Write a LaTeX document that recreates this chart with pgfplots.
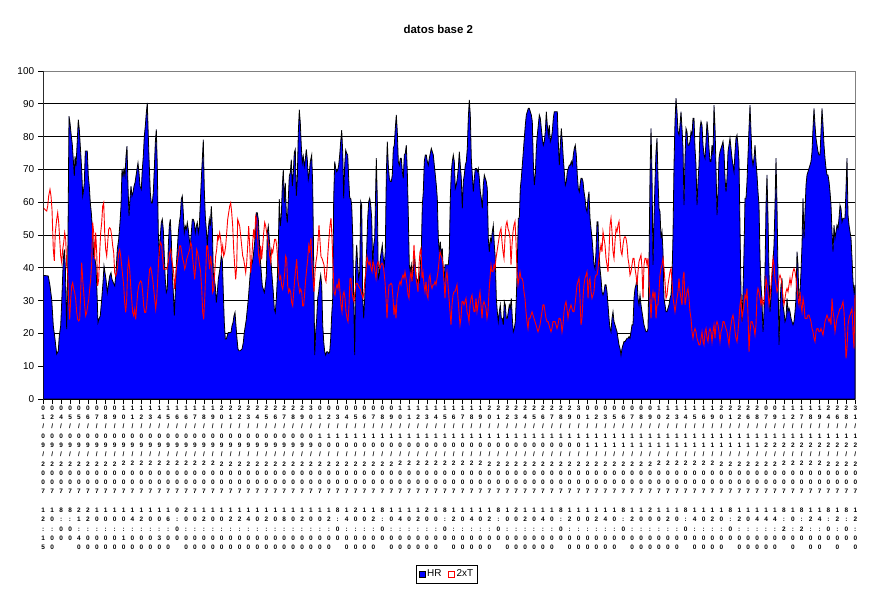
\documentclass[border=0pt]{standalone}
\usepackage{fontspec}
\setmainfont{Liberation Sans}
\usepackage{pgfplots}
\pgfplotsset{compat=1.18}
\usepackage{pgfplotstable}

\def\stkA#1{\ifx\relax#1\else\hbox to 0pt{\hss#1\hss}\expandafter\stkA\fi}
\def\stk#1{\vbox{\fontsize{6.5}{9.3}\selectfont\bfseries\baselineskip=9.3bp\lineskiplimit=-100bp\lineskip=0pt\stkA#1\relax}}
\def\TL#1#2#3{\stk{#1/#2/2007~#3}}

\pgfplotstableread{
x y
43.3 37.7
48.3 37.5
50 34.5
51.7 30.4
53.3 22.3
55 18.3
56.7 13.7
58.3 14.7
59.3 19.3
60.7 22.3
61.7 29.4
63.3 42.6
64.3 45.6
65.3 40.6
66.7 21.3
67.7 39.6
69 86.2
70 84.2
71 81.1
72.3 77.6
73.3 73.0
74.3 68.0
75 74.0
76 71.0
77 77.1
78.3 85.2
79.3 82.2
80.3 77.1
81.7 70.0
82.7 61.9
83.3 62.9
84.3 65.9
85.3 75.6
86.3 75.6
87.3 75.6
88.3 68.0
89.3 64.9
90.3 59.8
91.3 56.8
92.7 50.7
93.7 43.6
95 42.6
96 40.6
97 32.5
98 23.3
99 24.3
100.3 25.4
101.7 30.4
103 35.5
104 40.6
105 38.5
106 36.5
107.3 32.5
108.7 35.5
109.7 37.5
111 38.5
112 36.5
113.3 35.5
114.7 34.5
116 38.5
117.3 45.6
118.7 48.7
120 53.8
121 58.8
122 70.0
123 68.0
124 70.0
125 68.0
126 74.0
127 77.1
128 64.9
129 55.8
130 60.9
131 64.9
132 61.9
133 62.9
134 64.9
135 65.9
136 68.0
137 70.0
138 72.0
139 69.0
140 64.9
141.3 63.9
142.3 70.0
143.3 74.0
144.3 80.1
145.3 83.2
146.3 87.2
147.3 90.3
148.3 80.1
149.3 71.0
150.3 62.9
151.3 59.8
152.3 59.8
153.3 62.9
154.3 70.0
155.3 78.1
156.3 82.2
157.3 71.0
158.3 50.7
159.3 43.6
160.3 49.7
161.3 53.8
162.3 54.8
163.3 51.7
164.3 43.6
165.3 36.5
166.3 32.5
167.3 33.5
168.3 46.7
169.3 52.7
170.3 54.8
171.3 48.7
172.3 38.5
173.3 32.5
174.3 25.4
175.3 32.5
176.3 40.6
177.3 45.6
178.3 50.7
179.3 53.8
180.3 55.8
181.3 60.9
182.3 61.9
183.3 56.8
184.3 50.7
185.3 52.7
186.3 51.7
187.3 53.8
188.3 51.7
189.3 48.7
190.3 46.7
191.3 50.7
192.3 54.8
193.3 54.8
194.3 53.8
195.3 50.7
196.3 52.7
197.3 53.8
198.3 50.7
199.3 52.7
200.3 59.8
201.3 67.0
202.3 73.0
203.3 79.1
204.3 63.9
205.3 55.8
206.3 51.7
207.3 46.7
208.3 51.7
209.3 54.8
210.3 52.7
211.3 58.8
212.3 52.7
213.3 38.5
214.3 36.5
215.3 34.5
216.3 29.4
217.3 32.5
218.3 36.5
219.3 38.5
220.3 40.6
221.3 43.6
222.3 42.6
223.3 32.5
224.3 23.3
225.3 18.3
226.3 18.3
227.3 19.3
228.3 20.3
230 20.3
231 20.3
232 22.3
233 23.3
234 25.4
235 26.4
236 22.3
237 18.3
238 15.2
239 14.7
240 14.7
242 15.2
243.3 17.2
244.3 20.3
245.3 22.3
246.3 24.3
247.3 27.4
248.3 30.4
249.3 34.5
250.3 38.5
251.3 40.6
252.3 41.6
253.3 43.6
254.3 46.7
255.3 49.7
256.3 56.8
257.3 56.8
258.3 54.8
259.3 48.7
260.3 42.6
261.3 38.5
262.3 34.5
263.3 33.5
264.3 32.5
265.3 34.5
266.3 37.5
267.3 50.7
268.3 52.7
269.3 48.7
270.3 44.6
271.3 40.6
272.3 36.5
273.3 32.5
274.3 27.4
275.3 26.4
276.3 30.4
277.3 36.5
278.3 46.7
279.3 60.9
280.3 52.7
281.3 55.8
282.3 64.9
283.3 70.0
284.3 59.8
285.3 65.9
286.3 56.8
287.3 53.8
288.3 60.9
289.3 68.0
290.3 69.0
291.3 73.0
292.3 64.9
293.3 69.0
294.3 75.1
295.3 76.1
296.3 61.9
297.3 67.0
298.3 81.1
299.3 88.2
300.3 84.2
301.3 77.1
302.3 72.0
303.3 74.0
304.3 71.0
305.3 73.0
306.3 76.1
307.3 73.0
308.3 67.0
309.3 69.0
310.3 72.4
311.7 74.4
312.7 65.2
313.7 40.9
314.7 13.4
315.7 20.5
316.7 24.6
317.7 30.7
318.7 32.7
319.7 35.8
320.7 37.8
321.7 34.8
322.7 22.6
323.7 17.5
324.7 14.4
325.7 13.4
326.7 14.4
327.7 14.4
328.7 13.9
329.7 14.4
330.7 18.5
331.7 25.6
332.7 30.7
333.7 61.2
334.7 72.4
335.7 70.3
336.7 69.3
337.7 69.8
338.7 71.3
339.7 74.4
340.7 78.5
341.7 82.0
342.7 75.4
343.7 61.2
344.7 71.3
345.7 75.9
346.7 74.9
347.7 74.4
348.7 67.3
349.7 61.2
350.7 61.2
351.7 59.1
352.7 50.0
353.7 30.7
354.7 13.4
355.7 40.9
356.7 47.0
357.7 40.9
358.7 36.8
359.7 38.8
360.7 60.2
361.7 59.1
362.7 30.7
363.7 24.6
364.7 30.7
365.7 38.8
366.7 45.9
367.7 55.1
368.7 60.2
369.7 61.2
370.7 59.1
371.7 55.1
372.7 39.8
373.7 47.0
374.7 49.0
375.7 64.2
376.3 73.4
377.3 61.2
378.3 36.8
379.3 37.8
380.3 42.9
381.3 44.9
382.3 47.0
383.3 42.9
384.3 40.9
385.3 44.9
386.3 68.3
387.3 78.5
388.3 71.3
389.3 67.3
390.3 66.3
391.3 66.3
392.3 68.3
393.3 76.4
394.3 77.4
395.3 82.5
396.3 86.6
397.3 81.5
398.3 72.4
399.3 71.3
400.3 73.4
401.3 73.4
402.3 69.3
403.3 67.3
404.3 74.4
405.3 74.9
406.3 77.4
407.3 69.3
408.3 56.1
409.3 40.9
410.3 38.8
411.3 40.9
412.3 36.8
413.3 38.8
414.3 44.9
415.3 40.9
416.3 36.8
417.3 35.8
418.3 36.8
419.3 35.8
420.3 40.9
421.3 44.9
422.3 59.1
423.3 63.2
424.3 72.4
425.3 74.4
426.3 74.4
427.3 72.4
428.3 71.3
429.3 73.4
430.3 74.9
431.3 76.4
432.3 75.4
433.3 74.4
434.3 71.3
435.3 68.3
436.3 65.2
437.3 61.2
438.3 49.0
439.3 44.9
440.3 48.0
441.3 43.9
442.3 45.9
443.3 38.8
444.3 36.8
445 40.9
446.7 40.9
448.3 40.9
449.3 44.9
450.3 61.2
451.3 69.3
452.3 72.4
453.3 74.4
454.3 72.4
455.3 64.2
456.3 65.2
457.3 67.3
458.3 70.3
459.3 75.4
460.3 71.3
461.3 67.3
462.3 58.1
463.3 66.3
464.3 68.3
465.3 71.3
466.3 72.4
467.3 76.4
468.3 85.6
469.3 91.2
470.3 86.6
471.3 73.4
472.3 68.3
473.3 63.2
474.3 67.3
475.3 70.3
476.3 70.3
477.3 69.3
478.3 70.3
479.3 67.3
480.3 63.2
481.3 61.2
482.3 58.1
483.3 65.2
484.3 68.3
485.3 67.3
486.3 66.3
487.3 64.2
488.3 49.0
489.3 44.9
490.3 49.0
491.3 48.0
492.3 51.0
493.3 53.0
494.3 47.0
495.3 42.9
496.3 30.7
497.3 26.6
498.3 23.6
499.3 26.6
500.3 28.7
501.3 24.6
502.3 24.6
503.3 22.6
504.3 29.7
505.3 28.7
506.3 24.6
507.3 24.6
508.3 26.6
509.3 28.7
510.3 27.7
511.3 30.7
512.3 24.6
513.3 20.5
514.3 21.5
515.3 23.6
516.3 30.7
517.3 40.9
518.3 55.1
519.3 55.1
520.3 64.2
521.3 67.3
522.3 71.3
523.3 75.4
524.3 79.5
525.3 83.5
526.3 86.6
527.3 87.6
528.3 88.6
529.3 88.6
530.3 87.6
531.3 86.6
532.3 84.6
533.3 72.4
534.3 65.2
535.3 68.3
536.3 76.4
537.3 80.5
538.3 83.5
539.3 86.6
540.3 85.6
541.3 82.5
542.3 79.5
543.3 77.4
544.3 78.5
545.3 81.5
546.3 87.6
547.3 83.5
548.3 80.5
549.3 83.5
550.3 78.5
551.3 79.5
552.3 81.5
553.3 85.6
554.3 87.6
555.3 87.6
556.3 87.6
557.3 87.6
558.3 78.5
559.3 71.3
560.3 77.4
561.3 82.5
562.3 78.5
563.3 73.4
564.3 69.3
565.3 65.2
566.3 66.3
567.3 69.3
568.3 70.3
569.3 71.3
570.3 71.3
571.3 72.4
572.3 71.3
573.3 74.4
574.3 76.4
575.3 77.4
576.3 74.4
577.3 68.3
578.3 64.2
579.3 63.2
580 65.2
581 67.3
582 67.3
583 66.3
584 63.2
585 61.2
586 58.1
587 57.1
588 61.2
589 63.2
590 55.1
591 52.0
592 49.0
593 44.9
594 40.9
595 39.8
596 44.9
597 54.0
598 54.0
599 44.9
600 39.8
601 36.8
602 32.7
603 31.7
604 32.7
605 34.8
606 34.8
607 32.7
608 28.7
609 24.6
610 21.5
611 20.5
612 24.6
613 26.6
614 23.6
615 22.6
616 21.5
617 20.5
618 18.5
619 16.5
620 15.4
621 13.4
622 15.4
623 16.5
624 17.5
625 17.5
626 18.0
627 18.5
628 18.5
629 19.0
630 18.5
631 20.5
632 22.6
633 22.6
634 30.7
635 33.7
636 34.8
637 36.8
638 30.7
639 28.7
640 31.7
641 28.7
642 26.6
643 24.6
644 22.6
645 21.5
646 20.5
647 20.5
648 21.5
649 40.9
650 68.3
651 82.5
652 68.3
653 40.9
654 55.1
655 66.3
656 75.4
657 79.5
658 67.3
659 58.1
660 57.1
661 49.0
662 51.0
663 44.9
664 30.7
665 28.7
666 26.6
667 26.6
668 27.7
669 28.7
670 30.7
671 31.7
672 36.8
673 50.0
674 71.3
675 84.6
676 91.7
677 87.6
678 81.5
679 80.5
680 83.5
681 87.6
682 82.5
683 76.4
684 59.1
685 73.4
686 82.5
687 81.5
688 77.4
689 77.4
690 78.5
691 81.5
692 80.5
693 85.6
694 85.6
695 76.4
696 71.3
697 59.1
698 66.3
699 71.3
700 82.5
701 84.6
702 83.5
703 77.4
704 74.4
705 73.4
706 78.5
707 84.6
708 81.5
709 76.4
710 72.4
711 72.4
712 77.4
713 74.4
714 89.6
715 83.0
716 70.3
717 56.1
718 63.2
719 73.4
720 75.4
721 76.4
722 77.4
723 78.5
724 75.4
725 67.3
726 63.2
727 67.3
728 75.4
729 77.4
730 79.5
731 76.4
732 73.4
733 71.3
734 69.3
735 75.4
736 79.5
737 80.5
738 77.4
739 72.4
740 52.0
741 32.7
742 23.6
743 32.7
744 44.9
745 61.2
746 61.2
747 66.3
748 74.4
749 82.5
750 89.6
751 81.5
752 73.4
753 71.3
754 73.4
755 77.4
756 72.4
757 68.3
758 63.2
759 59.1
760 42.9
761 34.8
762 29.7
763 20.5
764 26.6
765 38.8
766 59.1
767 68.3
768 55.1
769 38.8
770 26.6
771 30.7
772 36.8
773 41.9
774 47.0
775 59.1
776 73.4
777 59.1
778 37.8
779 16.5
780 28.7
781 34.8
782 36.8
783 28.7
784 26.6
785 23.6
786 24.6
787 30.7
788 26.6
789 27.7
790 26.6
791 24.6
792 23.6
793 22.6
794 23.6
795 26.6
796 30.7
797 44.9
798 40.9
799 28.7
800 32.7
801 38.8
802 47.0
803 61.2
804 49.0
805 57.1
806 65.2
807 68.3
808 69.3
809 70.3
810 71.3
811 72.4
812 75.4
813 82.5
814 88.6
815 83.5
816 79.5
817 77.4
818 75.4
819 74.4
820 74.4
821 81.5
822 88.6
823 83.5
824 77.4
825 73.4
826 70.3
827 68.3
828 68.3
829 66.3
830 63.2
831 59.1
832 51.0
833 44.9
834 53.0
835 49.0
836 51.0
837 53.0
838 52.0
839 55.1
840 59.1
841 58.1
842 54.0
843 55.1
844 55.1
845 55.1
846 64.2
847 73.4
848 56.1
849 53.0
850 51.0
851 49.0
852 42.9
853 35.8
854 32.7
855 34.8
}\hrtable

\pgfplotstableread{
x y
43.3 58.3
45 57.8
46.7 57.3
47.7 58.8
48.7 61.9
50 63.9
51 61.9
52 57.8
53.3 45.6
54.3 42.1
55.3 50.7
56.7 54.8
57.7 56.8
58.7 53.8
59.7 48.7
60.7 43.6
61.7 41.6
62.7 45.6
63.7 47.7
64.7 50.7
65.7 48.7
66.7 40.6
67.7 38.5
68.7 29.4
69.7 24.3
70.7 30.4
71.7 34.5
72.7 35.5
73.7 33.5
74.7 32.5
75.7 30.4
76.7 26.4
77.7 24.3
78.7 23.8
79.7 24.3
80.7 32.5
81.7 41.6
82.7 36.5
83.7 32.5
84.7 28.4
85.7 25.4
86.7 26.4
87.7 28.4
88.7 30.4
89.7 33.5
90.7 36.5
91.7 41.6
92.7 53.8
93.7 50.7
94.7 42.6
95.7 50.7
96.7 44.6
97.7 34.5
98.7 36.5
99.7 44.6
100.7 50.7
101.7 53.8
102.7 58.8
103.7 59.8
104.7 50.7
105.7 45.6
106.7 43.6
107.7 47.7
108.7 51.7
109.7 52.2
110.7 51.7
111.7 49.7
112.7 46.7
113.7 44.6
114.7 38.5
115.7 37.5
116.7 38.5
117.7 40.6
118.7 44.6
119.7 45.6
120.7 43.6
121.7 40.6
122.7 37.5
123.7 34.5
124.7 29.4
125.7 26.4
126.7 30.4
127.7 39.6
128.7 42.6
129.7 39.6
130.7 34.5
131.7 30.4
132.7 26.4
133.7 25.4
134.7 27.4
135.7 24.3
136.7 28.4
137.7 32.5
138.7 34.5
139.7 35.5
140.7 36.0
141.7 35.5
142.7 32.5
143.7 28.4
144.7 26.4
145.7 26.4
146.7 28.4
147.7 32.5
148.7 36.5
149.7 39.6
150.7 40.1
151.7 38.5
152.7 36.5
153.7 33.5
154.7 30.4
155.7 27.4
156.7 30.4
157.7 36.5
158.7 42.6
159.7 46.7
160.7 47.7
161.7 46.7
162.7 42.6
163.7 39.6
164.7 39.6
165.7 39.6
166.7 39.6
167.7 40.6
168.7 42.6
169.7 44.6
170.7 45.6
171.7 42.6
172.7 40.6
173.7 38.5
174.7 33.5
175.7 37.5
176.7 40.6
177.7 42.6
178.7 44.6
179.7 46.7
180.7 46.7
181.7 44.6
182.7 42.6
183.7 41.6
184.7 39.6
185.7 40.6
186.7 42.6
187.7 43.6
188.7 44.6
189.7 45.6
190.7 47.7
191.7 46.7
192.7 42.6
193.7 39.6
194.7 36.5
195.7 40.6
196.7 45.6
197.7 44.6
198.7 42.6
199.7 40.6
200.7 38.5
201.7 33.5
202.7 26.4
203.7 24.3
204.7 30.4
205.7 38.5
206.7 46.7
207.7 46.7
208.7 42.6
209.7 39.6
210.7 43.6
211.7 40.6
212.7 32.5
213.7 33.5
214.7 38.5
215.7 43.6
216.7 45.6
217.7 49.7
218.7 48.7
219.7 50.7
220.7 48.7
221.7 44.6
222.7 46.7
223.7 43.6
224.7 44.6
225.7 46.7
226.7 50.7
227.7 54.8
228.7 56.8
229.7 58.8
230.7 59.8
231.7 56.8
232.7 52.7
233.7 45.6
234.7 40.6
235.7 36.5
236.7 40.6
237.7 54.8
238.7 53.8
239.7 52.7
240.7 49.7
241.7 46.7
242.7 43.6
243.7 42.6
244.7 40.6
245.7 38.5
246.7 41.6
247.7 46.7
248.7 52.7
249.7 46.7
250.7 38.5
251.7 42.6
252.7 47.7
253.7 51.7
254.7 48.7
255.7 55.8
256.7 54.8
257.7 48.7
258.7 43.6
259.7 41.6
260.7 46.7
261.7 42.6
262.7 46.7
263.7 50.7
264.7 53.8
265.7 52.7
266.7 50.7
267.7 48.7
268.7 46.7
269.7 43.6
270.7 41.6
271.7 45.6
272.7 44.6
273.7 46.7
274.7 48.7
275.7 48.7
276.7 46.7
277.7 42.6
278.7 38.5
279.7 36.5
280.7 37.5
281.7 34.5
282.7 33.5
283.7 35.5
284.7 38.5
285.7 43.6
286.7 42.6
287.7 34.5
288.7 32.5
289.7 33.5
290.7 32.5
291.7 29.4
292.7 28.4
293.7 32.5
294.7 36.5
295.7 39.6
296.7 42.6
297.7 36.5
298.7 34.5
299.7 32.5
300.7 33.5
301.7 32.5
302.7 28.4
303.7 28.4
304.7 32.5
305.7 36.5
306.7 39.6
307.7 42.6
308.7 46.7
309.7 44.6
310 47.0
311 49.0
312 40.9
313 36.8
314 32.7
315 38.8
316 41.9
317 43.9
318 48.0
319 53.0
320 48.0
321 43.4
322 42.9
323 41.9
324 40.9
325 36.8
326 35.8
327 39.8
328 44.9
329 49.0
330 53.0
331 55.1
332 49.0
333 40.9
334 32.7
335 31.7
336 33.7
337 34.8
338 33.7
339 36.8
340 32.7
341 28.7
342 26.6
343 31.7
344 32.7
345 30.7
346 26.6
347 24.6
348 23.6
349 28.7
350 36.8
351 36.8
352 32.7
353 30.7
354 29.7
355 32.7
356 35.3
357 35.3
358 34.8
359 34.2
360 33.7
361 32.7
362 31.7
363 30.7
364 32.7
365 36.8
366 38.8
367 43.4
368 41.9
369 40.9
370 41.9
371 39.8
372 38.8
373 41.9
374 40.9
375 38.8
376 36.8
377 40.9
378 41.9
379 40.9
380 39.8
381 40.9
382 41.4
383 40.9
384 38.8
385 35.8
386 30.7
387 24.6
388 30.7
389 34.8
390 34.8
391 35.3
392 34.8
393 30.7
394 25.6
395 28.7
396 24.6
397 30.7
398 32.7
399 34.8
400 35.8
401 34.8
402 36.8
403 37.8
404 36.8
405 38.8
406 36.8
407 34.8
408 31.7
409 30.7
410 36.8
411 38.8
412 35.8
413 40.9
414 47.0
415 40.9
416 36.8
417 34.8
418 32.7
419 40.9
420 44.9
421 45.9
422 36.8
423 38.8
424 34.8
425 32.7
426 35.8
427 31.7
428 30.7
429 36.8
430 37.8
431 34.8
432 33.7
433 34.8
434 34.8
435 35.8
436 34.8
437 36.8
438 38.8
439 41.9
440 44.9
441 43.9
442 42.9
443 40.9
444 35.8
445 30.7
446 36.8
447 38.8
448 34.8
449 30.7
450 26.6
451 22.6
452 28.7
453 31.7
454 32.7
455 32.7
456 33.7
457 34.8
458 30.7
459 26.6
460 22.6
461 24.6
462 29.7
463 29.7
464 28.7
465 29.7
466 30.7
467 26.6
468 25.6
469 23.6
470 28.7
471 30.7
472 31.7
473 28.7
474 26.6
475 26.6
476 30.7
477 26.6
478 28.7
479 30.7
480 32.7
481 28.7
482 24.6
483 28.7
484 29.7
485 28.7
486 27.6
487 24.6
488 26.6
489 32.7
490 36.8
491 40.9
492 38.8
493 38.8
494 40.9
495 39.8
496 42.9
497 44.9
498 47.0
499 49.0
500 51.0
501 52.0
502 48.0
503 44.9
504 42.9
505 49.0
506 53.0
507 54.1
508 52.0
509 51.0
510 49.0
511 40.9
512 47.0
513 51.0
514 53.0
515 54.1
516 48.0
517 38.8
518 34.8
519 36.8
520 38.8
521 36.8
522 36.8
523 35.8
524 32.7
525 30.7
526 26.6
527 23.6
528 21.5
529 24.6
530 24.6
531 25.6
532 26.6
533 25.6
534 24.6
535 23.6
536 22.6
537 21.5
538 20.5
539 21.5
540 22.6
541 24.6
542 26.6
543 28.7
544 28.7
545 26.6
546 24.6
547 23.6
548 23.6
549 22.6
550 21.5
551 20.5
552 21.5
553 23.6
554 23.6
555 23.6
556 22.6
557 21.5
558 22.6
559 24.6
560 24.6
561 23.6
562 20.5
563 22.6
564 26.6
565 28.7
566 29.7
567 27.6
568 24.6
569 26.6
570 27.6
571 28.7
572 27.6
573 26.6
574 26.6
575 28.7
576 31.7
577 34.8
578 35.8
579 36.8
580 30.7
581 22.6
582 24.6
583 30.7
584 34.8
585 36.8
586 37.8
587 38.8
588 30.7
589 35.8
590 36.8
591 32.7
592 30.7
593 31.7
594 32.7
595 36.8
596 37.8
597 37.8
598 39.8
599 42.9
600 44.9
601 47.0
602 44.9
603 51.0
604 49.0
605 47.0
606 42.9
607 40.9
608 38.8
609 44.9
610 53.0
611 55.1
612 51.0
613 44.9
614 42.9
615 48.0
616 52.0
617 51.0
618 53.0
619 54.1
620 49.0
621 44.9
622 43.9
623 47.0
624 49.0
625 49.5
626 49.0
627 47.0
628 42.9
629 40.9
630 37.8
631 38.8
632 40.9
633 42.9
634 42.9
635 39.8
636 37.8
637 34.8
638 38.8
639 41.9
640 42.9
641 43.9
642 39.8
643 30.7
644 40.9
645 42.9
646 42.9
647 40.9
648 42.9
649 35.8
650 30.7
651 24.6
652 30.7
653 32.7
654 30.7
655 32.7
656 24.6
657 28.7
658 28.7
659 32.7
660 37.8
661 39.8
662 40.9
663 42.9
664 39.8
665 35.8
666 30.7
667 31.7
668 34.8
669 36.8
670 38.8
671 39.8
672 35.8
673 30.7
674 28.7
675 26.6
676 28.7
677 30.7
678 32.7
679 36.8
680 32.7
681 30.7
682 28.7
683 36.8
684 38.8
685 28.7
686 30.7
687 32.7
688 33.7
689 30.7
690 26.6
691 24.6
692 20.5
693 18.5
694 20.5
695 21.5
696 20.5
697 18.5
698 17.5
699 16.5
700 16.5
701 18.5
702 20.5
703 17.5
704 16.5
705 20.5
706 21.5
707 18.5
708 17.5
709 20.5
710 21.5
711 20.5
712 17.5
713 20.5
714 22.6
715 18.5
716 22.6
717 23.6
718 22.6
719 20.5
720 17.5
721 20.5
722 21.5
723 23.6
724 23.6
725 22.6
726 21.5
727 20.5
728 18.5
729 16.5
730 20.5
731 22.6
732 24.6
733 25.6
734 23.6
735 20.5
736 18.5
737 17.5
738 20.5
739 24.6
740 28.7
741 30.7
742 24.6
743 26.6
744 28.7
745 31.7
746 30.7
747 33.7
748 25.6
749 14.4
750 20.5
751 23.6
752 23.6
753 22.6
754 21.5
755 19.5
756 22.6
757 31.7
758 33.7
759 32.7
760 30.7
761 28.7
762 30.7
763 28.7
764 29.7
765 32.7
766 36.8
767 34.8
768 32.7
769 28.7
770 30.7
771 34.8
772 38.8
773 42.9
774 40.9
775 36.8
776 34.8
777 32.7
778 33.7
779 36.8
780 37.8
781 36.8
782 34.8
783 30.7
784 28.7
785 30.7
786 32.7
787 33.7
788 32.7
789 34.8
790 36.8
791 34.8
792 36.8
793 38.8
794 39.8
795 38.8
796 36.8
797 33.7
798 30.7
799 28.7
800 32.7
801 28.7
802 26.6
803 30.7
804 28.7
805 24.6
806 24.6
807 24.6
808 25.6
809 25.6
810 24.6
811 23.6
812 21.5
813 20.5
814 18.5
815 17.5
816 20.5
817 21.5
818 21.5
819 20.5
820 20.5
821 21.5
822 20.5
823 19.5
824 21.5
825 23.6
826 24.6
827 25.6
828 24.6
829 23.6
830 24.6
831 22.6
832 30.7
833 26.6
834 24.6
835 20.5
836 22.6
837 24.6
838 25.6
839 26.6
840 27.6
841 27.6
842 28.7
843 29.7
844 26.6
845 20.5
846 12.4
847 15.4
848 22.6
849 24.6
850 25.6
851 26.6
852 27.6
853 20.5
854 15.4
855 31.7
}\ttable

\begin{document}
\begin{tikzpicture}
\path[use as bounding box] (-43.3bp,-194bp) rectangle (833.7bp,399bp);
\begin{axis}[
  scale only axis,
  width=812bp, height=328bp,
  xmin=43.3, xmax=855.3,
  ymin=0, ymax=100,
  ytick={0,10,...,100},
  xtick={43.3,52.223,...,856},
  xticklabels={
\TL{01}{09}{12:15},\TL{02}{09}{10:00},\TL{04}{09}{8:00},\TL{05}{09}{8:00},\TL{05}{09}{21:40},\TL{06}{09}{22:00},\TL{07}{09}{10:00},\TL{08}{09}{10:00},\TL{09}{09}{10:00},\TL{10}{09}{10:10},
\TL{11}{09}{14:00},\TL{12}{09}{12:00},\TL{13}{09}{10:00},\TL{14}{09}{10:30},\TL{15}{09}{16:00},\TL{16}{09}{0:00},\TL{16}{09}{20:00},\TL{17}{09}{10:00},\TL{18}{09}{12:00},\TL{19}{09}{10:00},
\TL{20}{09}{10:00},\TL{21}{09}{12:00},\TL{22}{09}{12:00},\TL{23}{09}{14:00},\TL{24}{09}{10:00},\TL{25}{09}{12:00},\TL{26}{09}{10:00},\TL{27}{09}{18:00},\TL{28}{09}{10:00},\TL{29}{09}{12:00},
\TL{30}{09}{10:00},\TL{01}{10}{10:00},\TL{02}{10}{12:00},\TL{03}{10}{8:00},\TL{04}{10}{14:00},\TL{05}{10}{20:00},\TL{06}{10}{10:00},\TL{07}{10}{12:00},\TL{08}{10}{8:00},\TL{09}{10}{10:00},
\TL{10}{10}{14:00},\TL{11}{10}{10:00},\TL{12}{10}{12:00},\TL{13}{10}{20:00},\TL{14}{10}{10:00},\TL{15}{10}{8:00},\TL{16}{10}{12:00},\TL{17}{10}{10:00},\TL{18}{10}{14:00},\TL{19}{10}{10:00},
\TL{20}{10}{12:00},\TL{21}{10}{8:00},\TL{22}{10}{10:00},\TL{23}{10}{20:00},\TL{24}{10}{12:00},\TL{25}{10}{10:00},\TL{26}{10}{14:00},\TL{27}{10}{10:00},\TL{28}{10}{8:00},\TL{29}{10}{12:00},
\TL{30}{10}{10:00},\TL{01}{11}{10:00},\TL{02}{11}{12:00},\TL{03}{11}{14:00},\TL{05}{11}{10:00},\TL{06}{11}{8:00},\TL{07}{11}{12:00},\TL{08}{11}{10:00},\TL{09}{11}{20:00},\TL{10}{11}{10:00},
\TL{12}{11}{12:00},\TL{13}{11}{10:00},\TL{14}{11}{8:00},\TL{15}{11}{14:00},\TL{16}{11}{10:00},\TL{19}{11}{12:00},\TL{20}{11}{10:00},\TL{21}{11}{8:00},\TL{22}{11}{12:00},\TL{26}{11}{10:00},
\TL{28}{11}{14:00},\TL{07}{12}{14:00},\TL{09}{12}{14:00},\TL{11}{12}{8:20},\TL{12}{12}{10:00},\TL{17}{12}{8:20},\TL{18}{12}{12:00},\TL{19}{12}{14:00},\TL{24}{12}{8:00},\TL{26}{12}{12:00},
\TL{28}{12}{8:00},\TL{31}{12}{12:00}},
  xtick pos=bottom, ytick pos=left,
  tick align=outside,
  major tick length=5bp,
  tick style={black, line width=0.8bp},
  xticklabel style={anchor=north, inner sep=0pt, yshift=-1.5bp},
  yticklabel style={font=\fontsize{10}{12}\selectfont, inner sep=0pt, xshift=-4bp},
  /pgf/number format/assume math mode=true,
  ymajorgrids,
  grid style={black, line width=0.8bp},
  axis line style={draw=gray, line width=0.8bp},
  legend columns=2,
  legend style={at={(0.497,-0.534)}, anchor=center, draw=black, line width=0.8bp,
    font=\fontsize{10}{12}\selectfont, inner xsep=3bp, inner ysep=3.5bp,
    nodes={inner sep=1.5bp},
    /tikz/every even column/.append style={column sep=5bp}},
]
\addplot[fill=blue, draw=black, line width=0.8bp,
  legend image code/.code={\draw[fill=blue,draw=black,line width=0.6bp] (0bp,-3bp) rectangle (6bp,3bp);}]
  table[x=x,y=y] {\hrtable} \closedcycle;
\addlegendentry{HR}
\addplot[red, line width=0.9bp,
  legend image code/.code={\draw[fill=white,draw=red,line width=1bp] (0bp,-3bp) rectangle (6bp,3bp);}]
  table[x=x,y=y] {\ttable};
\addlegendentry{2xT}
\draw[black, line width=0.8bp] (rel axis cs:0,1) -- (rel axis cs:0,0) -- (rel axis cs:1,0);
\end{axis}
\node[font=\bfseries\fontsize{11.5}{13}\selectfont, anchor=base] at (395bp,365.7bp) {datos base 2};
\end{tikzpicture}
\end{document}
